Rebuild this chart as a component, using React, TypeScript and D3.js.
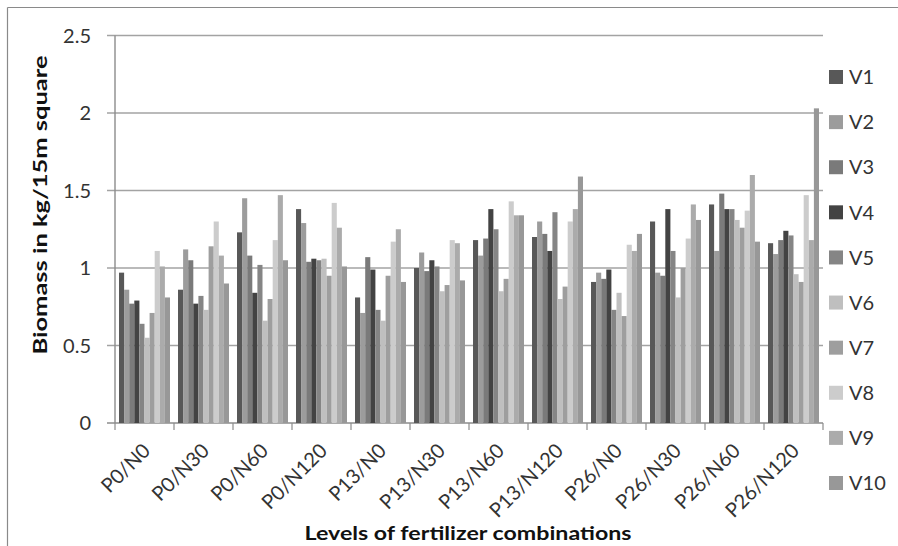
import React from "react";
import * as d3 from "d3";

const groups = ["P0/N0","P0/N30","P0/N60","P0/N120","P13/N0","P13/N30","P13/N60","P13/N120","P26/N0","P26/N30","P26/N60","P26/N120"];
const seriesNames = ["V1","V2","V3","V4","V5","V6","V7","V8","V9","V10"];
const V1 = [0.97, 0.86, 1.23, 1.38, 0.81, 1.00, 1.18, 1.20, 0.91, 1.30, 1.41, 1.16];
const V2 = [0.86, 1.12, 1.45, 1.29, 0.71, 1.10, 1.08, 1.30, 0.97, 0.97, 1.11, 1.09];
const V3 = [0.77, 1.05, 1.08, 1.04, 1.07, 0.98, 1.19, 1.22, 0.93, 0.95, 1.48, 1.18];
const V4 = [0.79, 0.77, 0.84, 1.06, 0.99, 1.05, 1.38, 1.11, 0.99, 1.38, 1.38, 1.24];
const V5 = [0.64, 0.82, 1.02, 1.05, 0.73, 1.01, 1.25, 1.36, 0.73, 1.11, 1.38, 1.21];
const V6 = [0.55, 0.73, 0.66, 1.06, 0.66, 0.85, 0.85, 0.80, 0.84, 0.81, 1.31, 0.96];
const V7 = [0.71, 1.14, 0.80, 0.95, 0.95, 0.89, 0.93, 0.88, 0.69, 1.00, 1.26, 0.91];
const V8 = [1.11, 1.30, 1.18, 1.42, 1.17, 1.18, 1.43, 1.30, 1.15, 1.19, 1.37, 1.47];
const V9 = [1.01, 1.08, 1.47, 1.26, 1.25, 1.16, 1.34, 1.38, 1.11, 1.41, 1.60, 1.18];
const V10 = [0.81, 0.90, 1.05, 1.01, 0.91, 0.92, 1.34, 1.59, 1.22, 1.31, 1.17, 2.03];
const seriesValues = [V1, V2, V3, V4, V5, V6, V7, V8, V9, V10];
const yTicks = [0, 0.5, 1, 1.5, 2, 2.5];
const colors = ["#585858", "#9c9c9c", "#7a7a7a", "#434343", "#858585", "#bfbfbf", "#9e9e9e", "#cccccc", "#ababab", "#989898"];

const W = 898, H = 546;
const plot = { left: 115, right: 823, top: 35.5, bottom: 423 };
const font = "Lato, 'Open Sans', sans-serif";

export default function App() {
  const x0 = d3.scaleBand<string>().domain(groups).range([plot.left, plot.right]).paddingInner(0).paddingOuter(0);
  const step = x0.step();
  const pad = step * 0.068;
  const x1 = d3.scaleBand<string>().domain(seriesNames).range([pad, step - pad]).padding(0);
  const y = d3.scaleLinear().domain([0, 2.5]).range([plot.bottom, plot.top]);
  const legendY = d3.scaleLinear().domain([0, 9]).range([77, 483]);

  return (
    <svg width={W} height={H} style={{ position: "absolute", left: 0, top: 0, background: "#fff" }} fontFamily={font}>
      <rect x={0} y={0} width={W} height={H} fill="#fff" />
      <line x1={7.5} y1={7.5} x2={W} y2={7.5} stroke="#8a8a8a" strokeWidth={1.2} />
      <line x1={7.5} y1={7.5} x2={7.5} y2={H} stroke="#8a8a8a" strokeWidth={1.2} />
      {yTicks.map((t) => (
        <g key={t}>
          <line x1={plot.left - 8} x2={plot.right} y1={y(t)} y2={y(t)} stroke={t === 0 ? "#8c8c8c" : "#a3a3a3"} strokeWidth={1.4} />
          <text x={91} y={y(t)} dy="0.35em" textAnchor="end" fontSize={20} fill="#333">{t}</text>
        </g>
      ))}
      <line x1={plot.left} x2={plot.left} y1={plot.top} y2={plot.bottom} stroke="#8c8c8c" strokeWidth={1.4} />
      {d3.range(groups.length + 1).map((i) => (
        <line key={"xt" + i} x1={plot.left + i * step} x2={plot.left + i * step} y1={plot.bottom} y2={plot.bottom + 7} stroke="#8c8c8c" strokeWidth={1.2} />
      ))}
      {groups.map((g, gi) => (
        <g key={g} transform={`translate(${x0(g)},0)`}>
          {seriesNames.map((s, si) => {
            const v = seriesValues[si][gi];
            return (
              <rect key={s} x={x1(s)} y={y(v)} width={x1.bandwidth()} height={y(0) - y(v)} fill={colors[si]} />
            );
          })}
        </g>
      ))}
      {groups.map((g) => {
        const cx = (x0(g) as number) + step / 2;
        return (
          <text key={"xl" + g} transform={`translate(${cx + 7},${452}) rotate(-45)`} textAnchor="end" fontSize={20} fill="#333">{g}</text>
        );
      })}
      {seriesNames.map((s, i) => (
        <g key={"lg" + s}>
          <rect x={829} y={legendY(i) - 7} width={14} height={14} fill={colors[i]} />
          <text x={849} y={legendY(i)} dy="0.36em" fontSize={20} fill="#333">{s}</text>
        </g>
      ))}
      <text x={468} y={540} textAnchor="middle" fontSize={19.5} fontWeight="bold" fill="#111" textLength={327} lengthAdjust="spacingAndGlyphs">Levels of fertilizer combinations</text>
      <text transform={`translate(47,${205}) rotate(-90)`} textAnchor="middle" fontSize={19.5} fontWeight="bold" fill="#111" textLength={299} lengthAdjust="spacingAndGlyphs">Biomass in kg/15m square</text>
    </svg>
  );
}
